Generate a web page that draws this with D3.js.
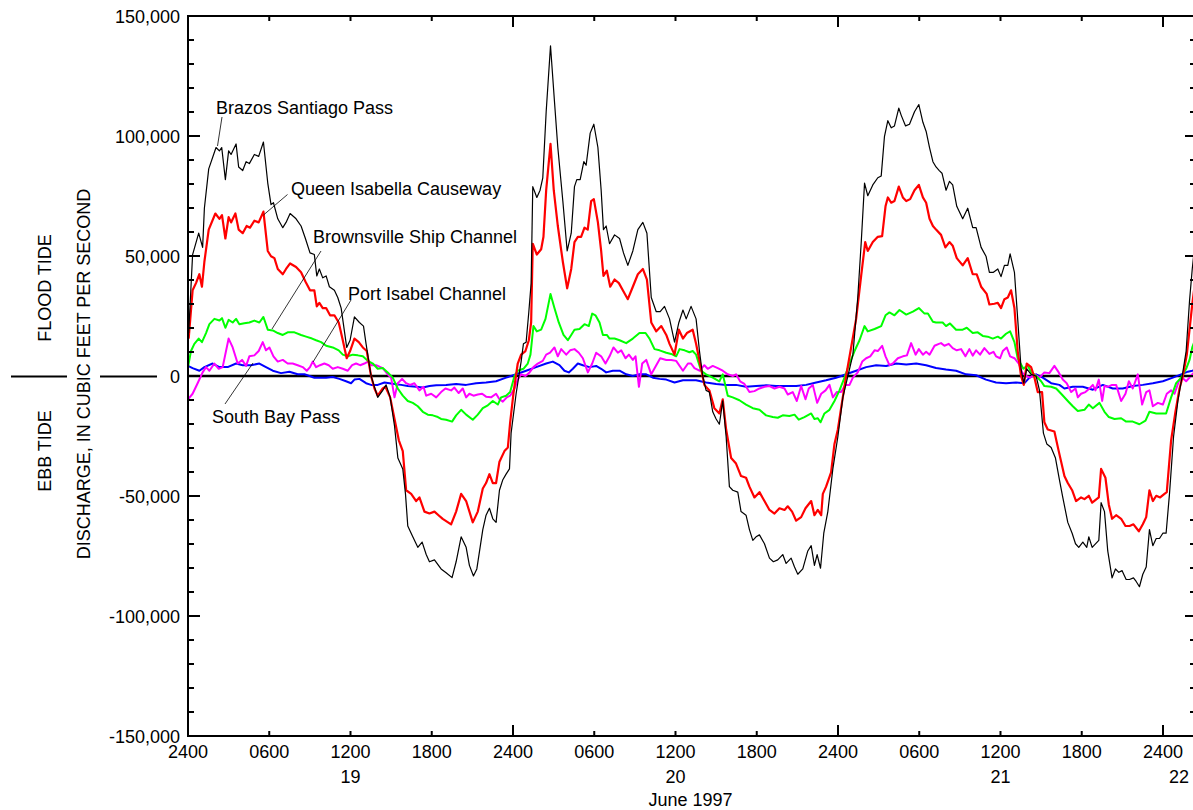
<!DOCTYPE html>
<html>
<head>
<meta charset="utf-8">
<script src="https://cdn.jsdelivr.net/npm/d3@7"></script>
<style>
  html, body { margin: 0; padding: 0; background: #fff; }
  svg { display: block; }
  text { font-family: "Liberation Sans", Arial, Helvetica, sans-serif; fill: #000; }
</style>
</head>
<body>
<svg id="chart" width="1193" height="810"></svg>
<script>
// ---------------- DATA (hours since 2400 June 18, discharge in thousands of cfs) ----------------
const brazos = [[0.05,17.9],[0.34,50.6],[0.79,59.5],[1.08,53.6],[1.21,69.9],[1.53,86.3],[2.07,95.2],[2.32,93.8],[2.49,95.2],[2.76,81.8],[3.0,93.8],[3.18,92.3],[3.55,96.7],[3.74,87.1],[4.04,85.6],[4.29,89.3],[4.53,88.5],[4.9,92.3],[5.22,91.5],[5.57,97.5],[5.89,80.4],[6.13,71.4],[6.31,72.2],[6.63,65.5],[7.0,61.8],[7.24,64.0],[7.54,67.7],[7.98,65.5],[8.35,62.5],[8.67,57.3],[9.01,51.3],[9.33,50.6],[9.51,41.7],[9.7,44.6],[9.95,40.9],[10.2,41.7],[10.44,37.2],[10.81,35.7],[11.06,32.7],[11.31,28.3],[11.72,11.9],[11.97,14.9],[12.29,24.6],[12.66,22.3],[12.96,20.8],[13.15,13.4],[13.52,0],[14.01,-8.9],[14.38,-6.0],[14.63,-3.7],[14.93,-8.9],[15.25,-20.8],[15.5,-34.2],[15.86,-38.7],[16.06,-49.1],[16.23,-62.5],[16.6,-67],[16.97,-71.4],[17.29,-69.2],[17.59,-74.4],[17.83,-77.4],[18.2,-76.6],[18.69,-80.4],
[19.06,-82],[19.5,-84],[19.8,-77.4],[20.17,-67],[20.54,-71.4],[20.78,-78.9],[21.08,-83.3],[21.33,-80.4],[21.77,-64],[22.01,-58],[22.26,-55.1],[22.51,-59.5],[22.75,-61],[23.0,-47.6],[23.25,-43.2],[23.49,-40.9],[23.74,-38.7],[23.86,-23.8],[24.23,-7.4],[24.6,6],[24.77,13.4],[24.97,14.1],[25.17,26.8],[25.34,38.7],[25.46,78.9],[25.76,74.4],[26.0,77.4],[26.2,82.6],[26.45,110.1],[26.77,137.6],[27.06,114.6],[27.31,95.2],[27.68,72.9],[28.0,52.1],[28.3,59.5],[28.54,78.9],[28.71,81.8],[28.96,81.8],[29.23,89.3],[29.4,87.8],[29.7,101.2],[29.97,104.9],[30.27,95.2],[30.51,77.4],[30.68,61.0],[30.88,62.5],[31.13,55.1],[31.5,58.8],[31.87,57.3],[32.16,51.3],[32.48,46.1],[32.85,52.1],[33.22,61.0],[33.59,64.0],[33.89,59.5],[34.21,32.7],[34.58,26.8],[34.87,26.8],[35.19,29.0],[35.56,23.8],[35.93,14.1],[36.25,22.3],[36.55,27.5],[36.79,23.8],
[37.15,29.0],[37.52,23.8],[37.77,10.4],[38.01,0],[38.26,-6],[38.5,-6.7],[38.75,-14.9],[39.0,-17.9],[39.24,-20.1],[39.49,-10.4],[39.74,-25.3],[39.98,-46.1],[40.23,-47.6],[40.6,-48.4],[40.84,-56.5],[41.21,-58],[41.46,-64],[41.71,-68.5],[41.95,-67],[42.2,-66.2],[42.57,-69.9],[42.94,-75.9],[43.23,-77.4],[43.55,-76.6],[43.92,-74.4],[44.17,-78.1],[44.54,-75.9],[44.79,-79.6],[45.03,-82.6],[45.4,-80.4],[45.77,-72.9],[46.02,-70.7],[46.26,-78.9],[46.46,-74.4],[46.71,-80.1],[46.95,-65.5],[47.25,-56.5],[47.62,-38.7],[47.99,-25.3],[48.36,-8.9],[48.73,0],[49.1,8.9],[49.46,32.7],[49.71,55.1],[49.96,80.4],[50.2,75.1],[50.57,79.6],[50.94,82.6],[51.19,83.3],[51.43,99.7],[51.68,106.4],[51.93,103.4],[52.17,104.2],[52.49,111.6],[52.67,108.6],[52.99,104.2],[53.28,104.9],[53.65,110.1],[53.97,113.1],[54.27,105.7],[54.51,101.9],[54.76,95.2],[55.01,89.3],[55.24,87.1],
[55.48,85.6],[55.68,84.5],[55.98,77.4],[56.23,81.1],[56.47,79.6],[56.77,70.7],[57.21,65.5],[57.58,69.9],[57.95,61.8],[58.2,61.8],[58.57,53.6],[58.93,49.9],[59.18,43.2],[59.48,43.2],[59.8,44.6],[60.04,41.4],[60.29,46.1],[60.54,46.1],[60.71,50.9],[61.03,43.2],[61.27,23.8],[61.52,3.0],[61.72,-3.0],[61.94,3.0],[62.26,0.7],[62.63,0],[62.88,-6],[63.17,-23.8],[63.42,-28.3],[63.74,-29.8],[64.06,-34.2],[64.35,-43.2],[64.6,-50.6],[64.97,-61],[65.29,-65.5],[65.54,-69.9],[65.78,-71.4],[66.08,-69.2],[66.37,-71.4],[66.52,-67],[66.77,-71.4],[67.26,-68.5],[67.43,-52.8],[67.68,-56.5],[67.92,-72.9],[68.24,-84.1],[68.49,-80.4],[68.74,-81.8],[68.98,-81.1],[69.28,-84.8],[69.53,-84.8],[69.82,-84.1],[70.02,-85.6],[70.26,-87.8],[70.51,-82.6],[70.76,-79.6],[71.0,-64],[71.25,-70.7],[71.5,-67.7],[71.74,-67.7],[71.99,-65.5],[72.23,-65.5],[72.48,-49.1],[72.78,-25.3],[73.1,-10.4],[73.42,0],[73.71,10.4],[73.96,31.3],[74.16,44.6],[74.3,52]];

const queenIsabella = [[0.05,15.6],[0.34,35.7],[0.59,38.7],[0.84,42.4],[1.03,37.2],[1.21,47.6],[1.53,61],[2.02,67.7],[2.32,65.5],[2.51,67],[2.76,57.3],[3.0,66.2],[3.18,64],[3.5,67.7],[3.74,61],[4.04,59.5],[4.33,62.5],[4.58,61.8],[4.9,64.7],[5.22,64],[5.57,68.5],[5.89,52.1],[6.13,49.9],[6.38,49.1],[6.63,44.6],[7.0,42.4],[7.24,44.6],[7.54,46.9],[7.98,45.4],[8.35,43.2],[8.67,39.4],[9.01,35.7],[9.33,35.7],[9.51,29.0],[9.7,30.5],[9.95,28.3],[10.2,28.3],[10.49,25.3],[10.81,25.3],[11.13,22.3],[11.43,14.9],[11.72,7.4],[11.97,10.4],[12.29,15.6],[12.61,14.1],[12.91,11.9],[13.2,10.4],[13.52,0],[13.77,-5.2],[14.01,-8.2],[14.38,-5.2],[14.58,-4.5],[14.93,-8.9],[15.25,-17.9],[15.57,-26.8],[15.86,-31.3],[16.11,-47.6],[16.48,-49.1],[16.85,-52.1],[17.09,-50.6],[17.46,-56.5],[17.83,-57.3],[18.2,-56.5],[18.5,-58],
[18.81,-59.5],[19.43,-61.8],[19.8,-56.5],[20.17,-49.1],[20.54,-52.1],[21.03,-61],[21.4,-56.5],[21.77,-46.9],[22.01,-44.6],[22.26,-40.9],[22.51,-44.6],[22.75,-44.6],[23.0,-35.7],[23.37,-31.3],[23.62,-29.8],[23.79,-19.3],[24.03,-7.4],[24.35,5.2],[24.6,8.9],[24.92,10.4],[25.17,14.9],[25.34,22.3],[25.46,55.1],[25.76,50.6],[26.08,52.8],[26.25,58],[26.45,77.4],[26.77,96.7],[27.01,77.4],[27.31,62.5],[27.68,47.6],[28.0,36.5],[28.3,44.6],[28.54,55.8],[28.79,58],[29.03,58],[29.28,61.8],[29.52,61],[29.77,72.9],[29.97,73.7],[30.27,64],[30.51,52.1],[30.68,41.7],[30.93,43.9],[31.18,37.2],[31.5,40.2],[31.82,38.7],[32.11,35.7],[32.48,32.0],[32.85,37.2],[33.22,42.4],[33.59,44.6],[33.89,40.2],[34.21,22.3],[34.58,18.6],[34.95,20.8],[35.32,17.1],[35.56,13.4],[35.93,8.9],[36.25,19.3],[36.55,15.6],[36.84,17.9],
[37.27,19.3],[37.52,13.4],[37.89,3.0],[38.13,-3.7],[38.5,-6],[38.87,-13.4],[39.24,-15.6],[39.49,-9.7],[39.74,-22.3],[40.11,-34.2],[40.47,-36.5],[40.84,-41.7],[41.21,-42.4],[41.46,-46.1],[41.83,-50.6],[42.2,-48.4],[42.57,-52.1],[42.94,-55.8],[43.31,-57.3],[43.68,-55.1],[44.05,-55.8],[44.29,-54.3],[44.61,-56.5],[44.91,-60.3],[45.28,-58.8],[45.6,-55.1],[46.02,-52.1],[46.26,-58],[46.51,-55.8],[46.76,-58],[46.88,-49.1],[47.12,-46.1],[47.49,-40.2],[47.74,-28.3],[47.99,-22.3],[48.23,-13.4],[48.6,0],[48.97,11.9],[49.34,23.8],[49.71,41.7],[50.01,55.8],[50.2,52.1],[50.57,55.8],[50.94,58],[51.26,58.3],[51.51,70.7],[51.68,74.4],[51.93,72.2],[52.17,72.9],[52.49,78.9],[52.79,74.4],[53.04,72.9],[53.33,73.7],[53.65,77.4],[53.97,79.6],[54.27,74.4],[54.51,72.2],[54.76,65.5],[55.01,62.5],
[55.24,61],[55.61,58.8],[55.93,53.6],[56.23,55.8],[56.47,54.3],[56.77,49.1],[57.21,46.1],[57.58,49.1],[57.95,42.4],[58.24,42.4],[58.57,37.2],[58.98,34.2],[59.18,29.8],[59.55,30.1],[59.8,30.5],[60.04,28.3],[60.29,32.0],[60.54,32.7],[60.78,35.7],[61.03,28.3],[61.27,10.4],[61.52,0],[61.72,-3.7],[61.94,5.2],[62.26,3.7],[62.51,-0.7],[62.75,-6.7],[63.07,-6.7],[63.24,-19.3],[63.49,-22.3],[63.98,-23.1],[64.3,-31.3],[64.72,-41.7],[64.97,-44.6],[65.29,-47.6],[65.58,-52.1],[65.95,-50.6],[66.2,-51.3],[66.52,-49.9],[66.77,-52.8],[67.26,-50.6],[67.43,-38.7],[67.75,-42.4],[68.0,-53.6],[68.24,-59.5],[68.54,-58],[68.91,-59.5],[69.23,-62.5],[69.53,-62.5],[69.82,-61.8],[70.22,-64.7],[70.51,-61.8],[70.76,-58.8],[71.0,-47.6],[71.25,-52.1],[71.5,-49.9],[71.79,-50.6],[72.11,-49.1],[72.28,-48.4],[72.6,-26.8],[72.92,-14.9],[73.22,-5.2],[73.47,0],[73.76,8.9],[73.96,19.3],[74.16,29.8],[74.3,36]];

const brownsville = [[0,3.7],[0.22,10.4],[0.47,13.4],[0.79,15.6],[1.03,14.1],[1.33,17.9],[1.58,21.6],[1.95,23.8],[2.32,23.1],[2.51,24.1],[2.76,20.1],[3.0,23.4],[3.3,22.3],[3.55,23.8],[3.79,21.6],[4.16,22.0],[4.53,22.3],[4.9,23.1],[5.27,22.3],[5.57,24.6],[5.89,19.3],[6.26,19.0],[6.63,17.9],[7.0,17.1],[7.36,18.2],[7.86,18.2],[8.35,17.1],[8.72,16.4],[9.16,15.6],[9.46,14.9],[9.83,14.1],[10.2,12.6],[10.69,11.9],[11.13,10.7],[11.43,8.9],[11.8,8.2],[12.17,8.9],[12.54,8.6],[12.91,8.2],[13.28,6.3],[13.65,5.2],[14.01,3.0],[14.38,3.3],[14.75,1.5],[15.12,-0.7],[15.49,-5.2],[15.86,-8.2],[16.23,-10.4],[16.6,-11.2],[16.97,-12.6],[17.34,-14.9],[17.71,-16.1],[18.08,-16.4],[18.45,-17.1],
[18.69,-17.9],[19.06,-18.2],[19.5,-19],[19.8,-16.4],[20.17,-14.1],[20.54,-16.1],[21.03,-18.2],[21.4,-16.1],[21.77,-13.4],[22.14,-12.2],[22.51,-10.4],[22.88,-11.9],[23.12,-8.9],[23.49,-8.2],[23.79,-6.7],[24.11,0],[24.35,2.2],[24.77,3.0],[25.09,5.2],[25.29,8.9],[25.51,20.8],[25.76,18.6],[26.08,19.3],[26.4,23.8],[26.77,34.2],[27.06,28.3],[27.38,22.3],[27.73,17.1],[28.05,14.9],[28.3,17.1],[28.54,19.3],[28.91,19.6],[29.28,21.6],[29.6,20.8],[29.85,26.0],[30.09,25.3],[30.39,22.3],[30.64,17.1],[30.93,17.1],[31.13,15.6],[31.5,15.6],[31.87,14.9],[32.36,13.7],[32.85,15.6],[33.34,17.9],[33.79,17.9],[34.08,15.6],[34.45,11.2],[34.82,10.7],[35.32,9.7],[35.68,9.2],[36.05,8.2],[36.3,11.2],[36.67,10.7],
[37.03,9.9],[37.27,10.4],[37.52,8.9],[37.89,2.2],[38.26,0.7],[38.75,-0.7],[39.24,-2.2],[39.49,0.7],[39.86,-8.2],[40.23,-8.9],[40.72,-10.1],[41.21,-11.9],[41.71,-13.4],[42.2,-14.1],[42.69,-16.4],[43.18,-17.1],[43.55,-17.4],[43.92,-16.4],[44.41,-16.7],[44.79,-16.1],[45.1,-18.2],[45.52,-17.1],[46.02,-15.6],[46.26,-17.9],[46.51,-17.6],[46.71,-19.3],[47.0,-15.6],[47.37,-14.1],[47.74,-10.4],[48.11,-6.0],[48.48,-0.7],[48.85,5.2],[49.22,10.4],[49.59,14.9],[49.96,20.8],[50.2,18.6],[50.7,19.6],[51.19,20.8],[51.51,25.3],[51.8,26.5],[52.17,25.3],[52.54,27.5],[53.04,25.6],[53.53,26.8],[53.97,28.3],[54.39,26.0],[54.64,26.0],[55.01,22.6],
[55.24,22.3],[55.73,22.3],[55.98,20.8],[56.27,21.9],[56.72,19.3],[57.21,19.3],[57.51,20.1],[57.95,17.9],[58.32,18.2],[58.69,16.7],[59.06,16.4],[59.43,15.6],[59.8,16.4],[60.04,15.6],[60.41,17.6],[60.71,18.6],[61.03,14.1],[61.27,7.4],[61.69,3.0],[62.01,4.5],[62.26,1.5],[62.63,0],[63.0,-2.2],[63.24,-4.2],[63.74,-4.5],[64.11,-5.2],[64.48,-7.4],[64.97,-10.4],[65.34,-12.6],[65.71,-14.6],[66.2,-14.1],[66.52,-11.9],[66.82,-13.4],[67.31,-11.2],[67.68,-14.9],[68.0,-17.1],[68.42,-17.9],[68.91,-17.6],[69.28,-19.0],[69.77,-19.0],[70.26,-20.1],[70.71,-18.6],[71.0,-14.9],[71.5,-15.6],[72.23,-15.6],[72.6,-8.9],[72.97,-3.0],[73.34,-0.7],[73.71,3.0],[73.96,6.7],[74.16,11.9],[74.3,14]];

const portIsabel = [[0,-9.7],[0.34,-7.4],[0.71,-3.0],[1.08,1.5],[1.33,3.7],[1.58,2.2],[1.95,5.2],[2.27,3.0],[2.56,3.7],[3.0,15.6],[3.3,11.9],[3.67,5.2],[3.99,6.7],[4.29,4.2],[4.53,8.2],[4.9,8.6],[5.22,10.4],[5.52,14.1],[5.76,10.7],[6.01,11.9],[6.31,8.2],[6.63,6.0],[7.0,6.7],[7.36,5.2],[7.73,5.2],[8.1,4.5],[8.47,3.7],[8.77,2.2],[9.01,3.7],[9.21,6.0],[9.46,3.7],[9.75,4.5],[10.07,5.2],[10.39,4.5],[10.69,3.0],[11.06,3.7],[11.43,3.0],[11.8,2.2],[12.12,4.5],[12.41,5.2],[12.71,4.5],[13.03,5.2],[13.28,6.0],[13.52,4.5],[13.89,4.5],[14.38,3.3],[14.75,0.7],[15.0,-0.7],[15.25,-8.9],[15.49,-3.0],[15.81,-1.2],[16.11,-3.0],[16.4,-3.7],[16.72,-3.0],[17.09,-6.0],[17.39,-4.5],[17.59,-8.2],[17.96,-7.4],[18.33,-8.9],
[18.69,-6.7],[19.01,-5.2],[19.43,-6],[19.67,-4.8],[19.99,-7.1],[20.29,-5.2],[20.54,-8.9],[20.78,-7.4],[21.08,-8.2],[21.4,-7.7],[21.72,-7.4],[22.01,-8.6],[22.38,-8.9],[22.75,-7.4],[23.0,-9.7],[23.25,-10.7],[23.54,-8.9],[23.79,-8.2],[24.11,-5.2],[24.35,-1.5],[24.6,0.7],[24.92,0],[25.22,1.5],[25.51,3.7],[25.83,5.2],[26.2,6.3],[26.45,8.9],[26.74,9.7],[27.06,11.9],[27.31,8.2],[27.56,11.2],[27.93,8.9],[28.22,10.7],[28.54,11.2],[28.86,9.7],[29.16,7.4],[29.53,1.5],[29.85,5.2],[30.14,9.7],[30.51,8.2],[30.83,5.2],[31.13,8.2],[31.42,11.9],[31.74,9.7],[31.99,10.7],[32.31,7.4],[32.56,8.9],[32.85,6.7],[33.05,8.2],[33.3,-4.5],[33.54,5.2],[33.84,6.7],[34.21,0.7],[34.58,4.5],[34.87,7.4],[35.32,6.7],[35.68,6.7],[36.05,6.3],[36.55,2.2],
[36.92,5.2],[37.15,5.2],[37.4,3.3],[37.77,2.2],[38.13,4.5],[38.38,3.0],[38.75,4.2],[39.12,3.3],[39.49,2.2],[39.86,0.7],[40.23,0],[40.47,0.7],[40.77,-2.2],[41.09,-3.3],[41.46,-6.7],[41.83,-6.3],[42.2,-5.2],[42.57,-4.5],[42.94,-4.2],[43.31,-5.2],[43.68,-4.5],[44.05,-5.2],[44.29,-7.7],[44.66,-6.7],[44.96,-10.4],[45.28,-4.2],[45.6,-9.7],[45.84,-5.2],[46.14,-3.7],[46.46,-11.2],[46.76,-7.4],[47.08,-6.0],[47.37,-3.7],[47.62,-8.9],[47.91,-6.7],[48.23,-6.7],[48.55,-3.7],[48.85,-3.7],[49.1,-0.7],[49.46,1.5],[49.79,6.0],[50.08,7.4],[50.38,8.2],[50.7,10.7],[50.94,10.4],[51.26,12.6],[51.51,8.2],[51.8,4.5],[52.05,5.2],[52.42,7.4],[52.79,8.2],[53.09,8.6],[53.4,13.7],[53.73,8.9],[53.97,11.2],[54.27,8.9],[54.51,10.1],[54.76,8.9],[55.13,12.6],
[55.45,13.4],[55.61,13.7],[55.86,12.6],[56.18,13.4],[56.47,11.6],[56.77,10.7],[57.09,11.2],[57.41,8.2],[57.7,11.2],[57.95,8.5],[58.2,10.7],[58.49,8.9],[58.81,11.6],[59.18,9.2],[59.48,10.1],[59.67,8.2],[59.97,7.4],[60.17,10.4],[60.46,11.9],[60.71,8.2],[61.03,7.4],[61.35,5.2],[61.59,1.5],[61.89,0],[62.19,-0.7],[62.51,0.7],[62.88,-0.7],[63.24,1.5],[63.61,1.2],[63.98,4.2],[64.3,1.5],[64.6,-1.5],[64.89,-3.0],[65.22,-6.7],[65.54,-5.2],[65.71,-8.9],[65.95,-7.4],[66.27,-6.7],[66.57,-5.2],[66.82,-3.7],[67.01,-6.0],[67.26,-1.5],[67.51,-10.4],[67.68,-4.2],[67.92,-4.5],[68.24,-3.7],[68.54,-3.7],[68.91,-10.4],[69.23,-7.4],[69.48,-2.2],[69.77,-5.2],[70.14,0.7],[70.46,-11.9],[70.76,-6.7],[71.0,-6.0],[71.25,-12.6],[71.62,-11.2],[71.99,-11.9],[72.28,-7.4],[72.6,-6.0],[72.85,-7.4],[73.17,-2.2],[73.42,-0.7],[73.71,-2.2],[73.96,-0.7],[74.16,0.7],[74.3,1.5]];

const southBay = [[0,4.2],[0.34,3.3],[0.84,2.2],[1.21,3.7],[1.82,5.2],[2.32,3.7],[2.93,3.7],[3.55,5.2],[4.04,4.5],[4.66,4.5],[5.27,5.2],[5.76,3.7],[6.26,2.2],[6.87,1.2],[7.49,1.8],[8.1,0.7],[8.6,0.7],[8.97,0],[9.33,-0.7],[9.7,-0.7],[10.2,-0.7],[10.69,-0.4],[11.18,-1.2],[11.67,-2.2],[12.04,-3.0],[12.29,-1.5],[12.66,-1.2],[13.15,-3.0],[13.52,-3.7],[14.01,-3.7],[14.51,-2.7],[14.88,-3.0],[15.25,-3.3],[15.74,-3.7],[16.23,-4.2],[16.85,-4.5],[17.34,-4.8],[17.83,-4.2],[18.33,-3.9],
[19.06,-3.7],[19.8,-3.3],[20.54,-3.7],[21.28,-3.0],[22.01,-2.7],[22.75,-2.2],[23.49,-0.7],[24.23,0.7],[24.97,2.2],[25.71,3.7],[26.45,5.2],[26.94,6.0],[27.43,4.5],[27.8,2.2],[28.12,1.5],[28.42,3.0],[28.79,5.2],[29.16,4.5],[29.65,3.7],[30.14,4.2],[30.51,3.0],[30.88,1.5],[31.37,2.2],[31.87,2.2],[32.36,0.7],[32.85,0],[33.34,0.7],[33.84,0.7],[34.33,-0.7],[34.82,-1.2],[35.32,-1.5],[35.93,-2.7],[36.55,-1.8],
[37.52,-1.8],[38.26,-2.7],[39.0,-3.3],[39.74,-3.7],[40.47,-3.7],[41.21,-4.5],[41.95,-4.2],[42.69,-3.9],[43.43,-4.2],[44.17,-4.2],[44.91,-4.2],[45.65,-3.7],[46.39,-2.7],[47.12,-1.8],[47.86,-0.7],[48.6,0.7],[49.34,2.2],[50.08,3.7],[50.82,4.5],[51.56,4.2],[52.3,5.2],[53.04,4.8],[53.78,5.2],[54.51,4.5],[55.24,3.3],
[55.98,2.7],[56.72,2.2],[57.46,0.7],[58.2,0.3],[58.93,-1.5],[59.67,-2.7],[60.41,-3.0],[61.15,-2.7],[61.77,-3.0],[62.14,-0.7],[62.63,0.7],[63.12,-0.7],[63.74,-3.0],[64.35,-3.7],[64.72,-5.2],[65.34,-4.5],[66.08,-4.5],[66.82,-5.7],[67.56,-3.7],[68.29,-5.2],[69.03,-5.2],[69.77,-4.2],[70.51,-3.7],[71.25,-3.0],[71.99,-2.2],[72.73,-0.7],[73.34,0.7],[73.84,1.8],[74.16,2.2],[74.3,2.4]];

const yMajorTicks = [-150000, -100000, -50000, 0, 50000, 100000, 150000];
const yMinorTicks = d3.range(-150000, 150001, 10000).filter(v => v % 50000 !== 0);
const xTickHours = [0, 6, 12, 18, 24, 30, 36, 42, 48, 54, 60, 66, 72];
const xTickLabels = ["2400","0600","1200","1800","2400","0600","1200","1800","2400","0600","1200","1800","2400"];
const dayLabels = ["19", "20", "21", "22"];
const dayHours = [12, 36, 60, 72];
const seriesNames = ["Brazos Santiago Pass", "Queen Isabella Causeway", "Brownsville Ship Channel", "Port Isabel Channel", "South Bay Pass"];

// ---------------- CHART ----------------
const svg = d3.select("#chart");
const L = 188, R = 1194, T = 16, B = 736;
const x = d3.scaleLinear().domain([0, 74.29]).range([L, R]);
const y = d3.scaleLinear().domain([-150000, 150000]).range([B, T]);

svg.append("defs").append("clipPath").attr("id", "clip")
  .append("rect").attr("x", L).attr("y", T).attr("width", R - L).attr("height", B - T);

const line = d3.line().x(d => x(d[0])).y(d => y(d[1] * 1000));

const plot = svg.append("g").attr("clip-path", "url(#clip)");
plot.append("line").attr("x1", L).attr("x2", R).attr("y1", y(0)).attr("y2", y(0))
  .attr("stroke", "#000").attr("stroke-width", 2.5);

const series = [
  { data: southBay, color: "#0000ff", w: 2 },
  { data: portIsabel, color: "#ff00ff", w: 2 },
  { data: brownsville, color: "#00ff00", w: 2 },
  { data: queenIsabella, color: "#ff0000", w: 2.2 },
  { data: brazos, color: "#000000", w: 1.2 }
];
series.forEach(s => {
  plot.append("path").attr("d", line(s.data)).attr("fill", "none")
    .attr("stroke", s.color).attr("stroke-width", s.w).attr("stroke-linejoin", "round");
});

const ax = svg.append("g").attr("stroke", "#000").attr("stroke-width", 2).attr("fill", "none");
ax.append("line").attr("x1", L).attr("x2", L).attr("y1", T - 1).attr("y2", B + 1);
ax.append("line").attr("x1", L - 1).attr("x2", R).attr("y1", T).attr("y2", T);
ax.append("line").attr("x1", L - 1).attr("x2", R).attr("y1", B).attr("y2", B);
ax.append("line").attr("x1", R).attr("x2", R).attr("y1", T).attr("y2", B);

yMajorTicks.forEach(v => {
  ax.append("line").attr("x1", L).attr("x2", L + 12).attr("y1", y(v)).attr("y2", y(v));
  ax.append("line").attr("x1", R - 9).attr("x2", R).attr("y1", y(v)).attr("y2", y(v));
});
yMinorTicks.forEach(v => {
  ax.append("line").attr("x1", L).attr("x2", L + 6).attr("y1", y(v)).attr("y2", y(v));
  ax.append("line").attr("x1", R - 4).attr("x2", R).attr("y1", y(v)).attr("y2", y(v));
});
xTickHours.forEach(h => {
  const len = h % 24 === 0 ? 11 : 5;
  ax.append("line").attr("x1", x(h)).attr("x2", x(h)).attr("y1", B).attr("y2", B - len);
  ax.append("line").attr("x1", x(h)).attr("x2", x(h)).attr("y1", T).attr("y2", T + len);
});

const fmt = v => d3.format(",")(v).replace("\u2212", "-");
const labels = svg.append("g").attr("font-size", 18);
yMajorTicks.forEach(v => {
  labels.append("text").attr("x", 180).attr("y", y(v) + 6.5).attr("text-anchor", "end").text(fmt(v));
});
xTickHours.forEach((h, i) => {
  labels.append("text").attr("x", x(h)).attr("y", 758).attr("text-anchor", "middle").text(xTickLabels[i]);
});
dayHours.forEach((h, i) => {
  const last = i === dayHours.length - 1;
  labels.append("text").attr("x", last ? x(h) + 26 : x(h)).attr("y", 783)
    .attr("text-anchor", last ? "end" : "middle").text(dayLabels[i]);
});
labels.append("text").attr("x", (L + 1193) / 2).attr("y", 806).attr("text-anchor", "middle").text("June 1997");

labels.append("text").attr("transform", "translate(84,374) rotate(-90)").attr("text-anchor", "middle")
  .attr("dy", "0.35em").text("DISCHARGE, IN CUBIC FEET PER SECOND");
labels.append("text").attr("transform", "translate(45,288) rotate(-90)").attr("text-anchor", "middle")
  .attr("dy", "0.35em").text("FLOOD TIDE");
labels.append("text").attr("transform", "translate(45,451) rotate(-90)").attr("text-anchor", "middle")
  .attr("dy", "0.35em").text("EBB TIDE");
svg.append("line").attr("x1", 11).attr("x2", 67).attr("y1", 376.5).attr("y2", 376.5).attr("stroke", "#000").attr("stroke-width", 2);
svg.append("line").attr("x1", 100).attr("x2", 157).attr("y1", 376.5).attr("y2", 376.5).attr("stroke", "#000").attr("stroke-width", 2);

const annos = [
  { t: seriesNames[0], tx: 216, ty: 113.5, l: [222, 117, 217.5, 146] },
  { t: seriesNames[1], tx: 291, ty: 194.5, l: [287.5, 194.5, 263.5, 215] },
  { t: seriesNames[2], tx: 313, ty: 243, l: [321, 251, 272, 329] },
  { t: seriesNames[3], tx: 348, ty: 299.5, l: [351, 300, 313, 362] },
  { t: seriesNames[4], tx: 212, ty: 423, l: [225, 404, 253, 363] }
];
annos.forEach(a => {
  labels.append("text").attr("x", a.tx).attr("y", a.ty).text(a.t);
  svg.append("line").attr("x1", a.l[0]).attr("y1", a.l[1]).attr("x2", a.l[2]).attr("y2", a.l[3])
    .attr("stroke", "#000").attr("stroke-width", 0.8);
});
</script>
</body>
</html>
